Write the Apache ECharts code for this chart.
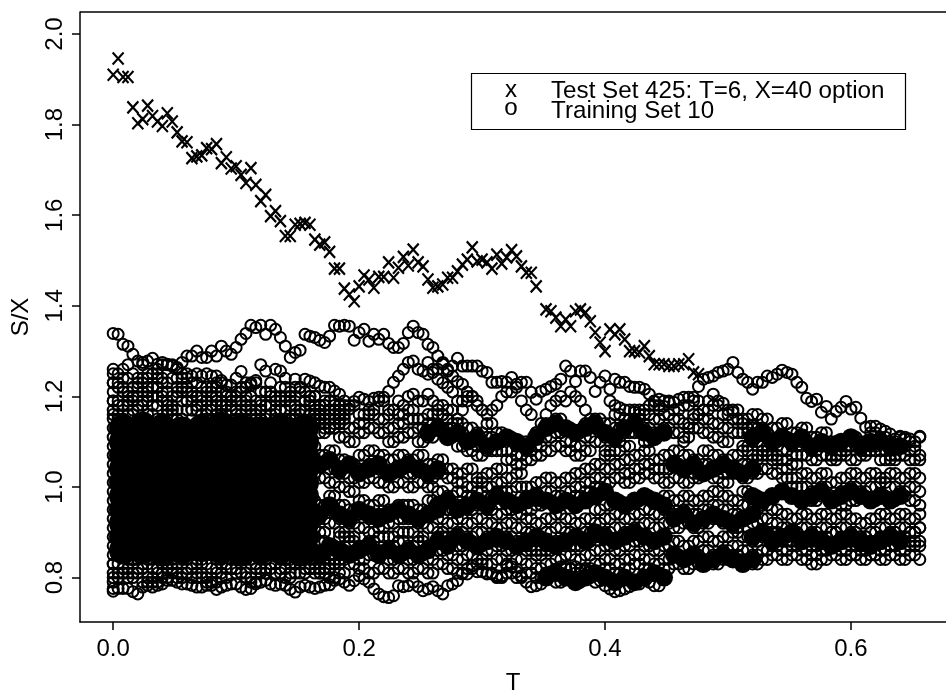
<!DOCTYPE html>
<html><head><meta charset="utf-8">
<style>html,body{margin:0;padding:0;background:#fff}#c{width:946px;height:693px}</style>
<script src="https://cdn.jsdelivr.net/npm/echarts@6/dist/echarts.min.js"></script>
</head><body><div id="c"></div>
<script>
const times=[0,.004,.008,.012,.016,.02,.024,.028,.032,.036,.04,.044,.048,.052,.056,.06,.064,.068,.072,.076,.08,.084,.088,.092,.096,.1,.104,.108,.112,.116,.12,.124,.128,.132,.136,.14,.144,.148,.152,.156,.16,.164,.168,.172,.176,.18,.184,.188,.192,.196,.2,.204,.208,.212,.216,.22,.224,.228,.232,.236,.24,.244,.248,.252,.256,.26,.264,.268,.272,.276,.28,.284,.288,.292,.296,.3,.304,.308,.312,.316,.32,.324,.328,.332,.336,.34,.344,.348,.352,.356,.36,.364,.368,.372,.376,.38,.384,.388,.392,.396,.4,.404,.408,.412,.416,.42,.424,.428,.432,.436,.44,.444,.448,.452,.456,.46,.464,.468,.472,.476,.48,.484,.488,.492,.496,.5,.504,.508,.512,.516,.52,.524,.528,.532,.536,.54,.544,.548,.552,.556,.56,.564,.568,.572,.576,.58,.584,.588,.592,.596,.6,.604,.608,.612,.616,.62,.624,.628,.632,.636,.64,.644,.648,.652,.656];
const xTickValues=[0,0.2,0.4,0.6];
const yTickValues=[0.8,1.0,1.2,1.4,1.6,1.8,2.0];

// Test Set 425, one value per time step from the first step (null = no mark)
const testSet=[1.91,1.946,1.905,1.905,1.838,1.803,1.812,1.842,1.819,1.807,1.797,1.825,1.807,1.783,1.763,1.761,1.726,1.73,1.732,1.748,1.746,1.757,1.715,1.728,1.703,1.708,1.689,1.671,1.704,1.667,1.631,1.645,1.598,1.609,1.587,1.554,1.554,1.579,1.581,1.583,1.579,1.546,1.535,1.54,1.519,1.482,1.482,1.438,1.425,1.41,1.443,1.467,1.458,1.44,1.464,1.464,1.496,1.462,1.484,1.508,1.489,1.524,1.496,1.487,1.458,1.44,1.443,1.447,1.462,1.462,1.476,1.491,1.502,1.529,1.498,1.502,1.496,1.482,1.513,1.493,1.507,1.523,1.509,1.487,1.473,1.473,1.443,null,1.392,1.388,1.374,1.355,1.37,1.355,1.388,1.392,1.385,1.366,1.341,1.319,1.3,1.348,1.337,1.348,1.326,1.3,1.3,1.297,1.311,1.289,1.271,1.271,1.271,1.267,1.267,1.271,1.271,1.282,1.253,1.249];

// Training Set 10: visible price paths, read one step apart
const pathA=[1.339,1.337,1.315,1.311,1.293,1.278,1.275,1.278,1.284,1.271,1.275,1.271,1.267,1.264,1.275,1.289,1.289,1.3,1.286,1.286,1.3,1.289,1.311,1.3,1.293,1.308,1.326,1.339,1.357,1.352,1.357,1.337,1.357,1.348,1.33,1.311,1.286,1.297,1.302,1.337,1.333,1.33,1.324,1.319,1.333,1.357,1.355,1.357,1.355,1.324,1.341,1.348,1.322,1.337,1.326,1.337,1.317,1.308,1.308,1.317,1.341,1.355,1.341,1.337,1.315,1.308,1.289,1.271,1.256,1.245,1.233,1.227,1.21];
const pathD=[1.172,1.189,1.198,1.194,1.189,1.196,1.198,1.198,1.211,1.231,1.245,1.26,1.275,1.278,1.26,1.256,1.275,1.253,1.238,1.23,1.22,1.21,1.19,1.19,1.2,1.2,1.18,1.17,1.16,1.17,1.18,1.2,1.21,1.21,1.22,1.19,1.17,1.16];
const pathF=[1.249,1.26,1.26,1.275,1.26,1.267,1.284,1.267,1.267,1.267,1.267,1.256,1.253,1.231,1.231,1.233,1.231,1.242,1.227,1.231,1.231,1.209,1.194,1.211,1.216,1.222,1.227,1.238,1.267,1.256,1.233,1.256,1.256,1.242,1.211,1.231,1.245,1.216,1.238,1.231,1.231,1.222,1.22,1.22,1.216,1.205,1.189,1.194,1.178,1.187,1.187,1.194,1.198,1.198,1.198,1.222,1.238,1.242,1.245,1.253,1.256,1.26,1.275,1.253,1.238,1.231,1.216,1.231,1.231,1.245,1.242,1.249,1.258,1.253,1.249,1.231,1.22,1.196,1.189,1.194,1.165,1.178,1.15,1.167,1.176,1.189,1.172,1.176,1.152,1.132,1.134,1.134,1.128,1.123,1.117,1.106,1.112,1.106,1.106,1.09,1.112];
const pathG=[1.1,1.13,1.15,1.16,1.17,1.19,1.205,1.19,1.185,1.17,1.165,1.15,1.14,1.13,1.135,1.12,1.13,1.12];
const pathH=[1.19,1.18,1.175,1.17,1.17,1.165,1.16,1.17,1.18,1.19,1.17];
const pathJ=[1.16,1.17,1.19,1.18,1.2,1.205,1.19,1.19,1.205,1.19,1.17,1.16,1.15,1.14,1.15,1.17,1.19,1.2,1.19,1.17];
const pathK=[1.12,1.14,1.16,1.18,1.19,1.2,1.19,1.21,1.2,1.19,1.17,1.15,1.13];
const pathBottom=[.793,.804,.797,.79,.775,.764,.758,.756,.76,.782,.78,.782,.79,.78,.771,.775,.78,.771,.764,.782,.786,.793,.808,.808,.826,.813,.813,.808,.808,.804,.804,.826,.824,.813,.804,.79,.78,.782,.786,.804,.813,.819,.824,.824,.819,.824,.819,.815,.813,.79,.793,.782,.775,.769,.771,.775,.78,.79,.786,.8,.79,.782,.782];
const upper1=[1.26,1.25,1.26,1.27,1.25,1.24,1.27,1.25,1.25,1.26,1.27,1.27,1.27,1.26,1.25,1.25,1.245,1.25,1.245,1.25,1.245,1.245,1.235,1.225,1.225,1.24,1.255,1.23,1.225,1.235,1.27,1.256,1.23,1.26,1.256,1.24,1.21,1.238,1.22,1.238,1.234,1.23,1.223,1.22,1.22,1.212,1.205,1.19];
const lower1=[.776,.776,.776,.776,.769,.764,.779,.783,.779,.783,.786,.794,.794,.79,.786,.786,.783,.779,.779,.783,.783,.774,.779,.783,.786,.786,.779,.774,.776,.786,.79,.794,.786,.783,.786,.783,.774,.768,.779,.783,.779,.776,.779,.783,.784,.794,.797,.79,.783];
// Values at the very first step, where many paths begin
const firstStep=[1.25,1.23,1.21,1.19,1.17,1.15,1.13,1.11,1.09,1.07,1.05,1.03,1.01,.99,.97,.95,.93,.91,.89,.87,.85,.83,.81,.79,.77];

// Edge paths of the crowded early part, read two steps apart
const upper2=[1.23,1.24,1.22,1.24,1.25,1.23,1.24,1.24,1.23,1.22,1.22,1.21,1.19,1.22,1.23,1.21,1.2,1.22,1.2,1.21,1.2,1.18,1.17,1.18];
const upper3=[1.19,1.21,1.2,1.21,1.22,1.21,1.2,1.22,1.2,1.19,1.2,1.18,1.2,1.19,1.16,1.18,1.16,1.2,1.18,1.17,1.18,1.16,1.15,1.16];
const upper4=[1.16,1.18,1.17,1.19,1.18,1.19,1.17,1.19,1.17,1.16,1.18,1.16,1.17,1.15,1.14,1.15,1.13,1.17,1.15,1.14,1.16,1.14,1.13,1.14];
const upper5=[1.18,1.2,1.18,1.22,1.2,1.17,1.21,1.19,1.18,1.21,1.19,1.18,1.16,1.2,1.17,1.18,1.19,1.15,1.17,1.19,1.17,1.15,1.16];
const upper6=[1.22,1.19,1.23,1.2,1.24,1.18,1.22,1.21,1.2,1.17,1.23,1.2,1.21,1.18,1.19,1.21,1.17,1.19,1.22,1.19,1.16,1.19,1.18];
const upper7=[1.15,1.16,1.14,1.16,1.15,1.16,1.15,1.17,1.14,1.15,1.16,1.14,1.15,1.17,1.15,1.14,1.15,1.14,1.16,1.13,1.15,1.13,1.14];
const lower2=[.8,.81,.81,.79,.79,.8,.81,.81,.8,.8,.79,.8,.82,.81,.79,.81,.83,.82,.81,.81,.82,.81,.8,.81];
const lower3=[.83,.82,.84,.83,.82,.83,.83,.84,.83,.83,.82,.83,.84,.85,.83,.84,.85,.84,.83,.85,.84,.84,.85,.85];
const lower4=[.81,.8,.82,.8,.81,.82,.8,.82,.81,.79,.81,.82,.81,.8,.82,.82,.81,.8,.83,.82,.81,.82,.83];
const lower5=[.85,.84,.85,.84,.85,.84,.85,.85,.84,.85,.84,.85,.86,.84,.85,.86,.85,.84,.86,.85,.86,.85,.86];

// Ribbons of later paths, read two steps apart
const ribbon1a=[1.2,1.18,1.19,1.17,1.18,1.16,1.17,1.19,1.17,1.16,1.17,1.15,1.16,1.18,1.17,1.14,1.13,1.12,1.14,1.12,1.11,1.09,1.1,1.12,1.14,1.15,1.13,1.12,1.14,1.15,1.14,1.16,1.15,1.17,1.16,1.18,1.19,1.17,1.18,1.19,1.17,1.18,1.16,1.17,1.15,1.16,1.15,1.13,1.14,1.12,1.13,1.11,1.12,1.1,1.09,1.11,1.1,1.12,1.11,1.1,1.11,1.1,1.11];
const ribbon1b=[1.16,1.15,1.17,1.15,1.13,1.14,1.16,1.15,1.13,1.14,1.15,1.13,1.14,1.16,1.13,1.12,1.1,1.09,1.11,1.1,1.08,1.07,1.08,1.09,1.11,1.12,1.1,1.09,1.11,1.13,1.11,1.13,1.12,1.15,1.13,1.15,1.16,1.15,1.14,1.16,1.15,1.14,1.13,1.15,1.12,1.13,1.12,1.1,1.11,1.09,1.1,1.08,1.09,1.07,1.08,1.09,1.08,1.09,1.08,1.07,1.09,1.08,1.07];
const ribbon1c=[1.14,1.12,1.13,1.11,1.1,1.12,1.13,1.12,1.1,1.11,1.12,1.1,1.11,1.13,1.11,1.09,1.08,1.07,1.08,1.08,1.06,1.05,1.06,1.07,1.08,1.09,1.08,1.07,1.08,1.1,1.08,1.1,1.09,1.12,1.1,1.12,1.13,1.12,1.11,1.13,1.12,1.11,1.1,1.12,1.09,1.1,1.09,1.07,1.08,1.07,1.07,1.06,1.07,1.06,1.07,1.06,1.07,1.08,1.06,1.06,1.07,1.06,1.06];
const ribbon2a=[1.09,1.07,1.08,1.06,1.05,1.07,1.08,1.07,1.06,1.07,1.06,1.07,1.05,1.06,1.04,1.03,1.04,1.02,1.03,1.04,1.02,1.03,1,1.01,1.02,1.01,1.02,1.03,1.04,1.05,1.07,1.08,1.06,1.07,1.08,1.06,1.07,1.08,1.07,1.06,1.08,1.07,1.06,1.07,1.08,1.07,1.08,1.09,1.06,1.05,1.03,1.02,1.03,1.01,1.02,1.03,1.02,1.03,1.02,1.03,1.02,1.03,1.02];
const ribbon2b=[1.06,1.05,1.04,1.03,1.02,1.04,1.05,1.04,1.03,1.04,1.03,1.04,1.02,1.03,1.02,1.01,1,1.01,1,1.01,.99,1,.98,.97,.99,.98,.99,1,1.01,1.02,1.04,1.05,1.03,1.04,1.05,1.04,1.04,1.05,1.04,1.03,1.05,1.04,1.03,1.04,1.05,1.06,1.07,1.06,1.04,1.02,1,.99,1,.98,.99,1,.99,1,1.01,1,.99,1,.99];
const ribbon2c=[1.03,1.02,1.01,1,.99,1.01,1.02,1.01,1,1.01,1,1.01,1,.99,.98,.99,.98,.99,.98,.99,.97,.96,.95,.96,.97,.96,.97,.98,.99,1,1.01,1.02,1.01,1.02,1.03,1.02,1.01,1.02,1.01,1.02,1.03,1.02,1.01,1.03,1.02,1.03,1.04,1.03,1.02,1,.98,.97,.98,.97,.96,.97,.98,.97,.98,.97,.98,.97,.96];
const ribbon3a=[.97,.96,.98,.96,.95,.97,.96,.97,.95,.96,.96,.95,.97,.96,.95,.96,.95,.96,.95,.94,.95,.94,.93,.92,.93,.94,.93,.92,.93,.95,.96,.97,.96,.97,.98,.97,.98,.97,.98,.97,.98,.99,.98,.97,.99,.98,.96,.95,.94,.93,.94,.93,.94,.93,.94,.93,.92,.93,.94,.93,.94,.93,.94];
const ribbon3b=[.94,.93,.95,.93,.92,.94,.93,.94,.92,.93,.93,.92,.94,.93,.92,.93,.92,.93,.92,.91,.92,.91,.9,.89,.9,.91,.9,.89,.9,.92,.93,.94,.93,.94,.95,.94,.95,.94,.95,.94,.95,.96,.95,.94,.96,.95,.93,.92,.91,.9,.91,.9,.91,.9,.91,.9,.89,.9,.91,.9,.91,.9,.91];
const ribbon3c=[.91,.9,.92,.9,.89,.91,.9,.91,.89,.9,.9,.89,.91,.9,.89,.9,.89,.9,.89,.88,.89,.88,.87,.86,.87,.88,.87,.87,.88,.89,.9,.91,.9,.91,.92,.91,.92,.91,.92,.91,.92,.93,.92,.91,.93,.92,.9,.89,.88,.88,.88,.87,.88,.87,.88,.87,.87,.88,.89,.87,.89,.88,.88];
const ribbon4a=[.89,.88,.87,.89,.88,.87,.88,.89,.87,.88,.87,.88,.87,.89,.88,.87,.88,.87,.86,.87,.86,.87,.86,.85,.86,.84,.85,.84,.85,.86,.87,.86,.87,.88,.87,.86,.87,.88,.87,.88,.89,.88,.89,.9,.89,.88,.89,.9,.89,.9,.89,.88,.89,.9,.89,.88,.89,.88,.89,.9,.89,.9,.91];
const ribbon4b=[.86,.85,.84,.86,.85,.84,.85,.86,.84,.85,.84,.85,.84,.86,.85,.84,.85,.84,.83,.84,.83,.84,.83,.82,.83,.81,.82,.81,.82,.83,.84,.83,.84,.85,.84,.83,.84,.85,.84,.85,.86,.85,.86,.87,.86,.85,.86,.87,.86,.87,.86,.85,.86,.87,.86,.85,.86,.85,.86,.87,.86,.87,.87];
const ribbon4c=[.83,.82,.83,.84,.83,.82,.81,.82,.81,.82,.81,.82,.81,.83,.82,.81,.82,.83,.81,.8,.81,.8,.81,.8,.81,.79,.8,.79,.8,.81,.82,.81,.82,.83,.82,.81,.82,.83,.82,.83,.84,.83,.84,.85,.84,.83,.84,.85,.84,.85,.84,.83,.84,.85,.84,.85,.84,.85,.84,.85,.84,.85,.84];

// Fully overplotted dark bands of the later part, read two steps apart
const band1A=[1.12,1.13,1.11,1.12,1.1,1.11,1.09,1.1,1.11,1.1,1.09,1.11,1.13,1.14,1.13,1.12,1.13,1.14,1.12,1.11,1.13,1.14,1.12,1.11,1.12];
const band1B=[1.11,1.12,1.1,1.11,1.1,1.11,1.09,1.1,1.09,1.1,1.11,1.09,1.1,1.1,1.09,1.09];
const band2A=[1.06,1.05,1.06,1.04,1.05,1.03,1.04,1.05,1.03,1.04,1.05,1.04,1.03,1.04];
const band2B=[1.05,1.04,1.05,1.03,1.04,1.05,1.04,1.03,1.04];
const band3A=[.96,.97,.95,.96,.97,.96,.98,.97,.96,.97,.98,.97,.96,.97,.96,.97,.98,.99,.97,.96,.97,.98,.97,.96];
const band3B=[.98,.97,.98,.99,.98,.97,.98,.99,.97,.98,.99,.98,.97,.98,.97,.98];
const band4A=[.95,.94,.96,.94,.93,.95,.94,.93,.94,.95,.94,.93,.94,.95];
const band4B=[.93,.94,.92,.93,.94,.93,.92,.93,.94];
const band5A=[.88,.87,.89,.88,.87,.88,.89,.88,.87,.88,.89,.88,.87,.88,.89,.88,.9,.89,.88,.89,.9,.89,.88,.89];
const band5B=[.89,.9,.88,.89,.9,.88,.89,.88,.87,.88,.89,.88,.87,.88,.89,.88];
const band6A=[.86,.85,.87,.86,.85,.86,.87,.85,.86,.85,.86,.85,.86];
const band6B=[.85,.84,.85,.83,.84,.85,.84,.83,.84];
const band7=[.8,.81,.8,.79,.8,.81,.8,.79,.8,.79,.8,.81,.8];

// Fully overplotted core of the early part, read four steps apart
const core1=[1.13,1.135,1.13,1.125,1.13,1.135,1.13,1.125,1.13,1.125];
const core2=[1.1,1.1,1.095,1.1,1.105,1.1,1.095,1.1,1.1,1.095];
const core3=[1.07,1.065,1.07,1.07,1.065,1.07,1.075,1.07,1.065,1.07];
const core4=[1.04,1.04,1.035,1.04,1.04,1.035,1.04,1.045,1.04,1.04];
const core5=[1.01,1.005,1.01,1.01,1.005,1.01,1.01,1.005,1.01,1.01];
const core6=[.98,.98,.975,.98,.985,.98,.975,.98,.98,.975];
const core7=[.95,.945,.95,.95,.945,.95,.955,.95,.945,.95];
const core8=[.92,.92,.915,.92,.92,.915,.92,.925,.92,.92];
const core9=[.89,.885,.89,.89,.885,.89,.89,.885,.89,.89];
const core10=[.86,.86,.855,.86,.865,.86,.855,.86,.86,.855];
const coreEdge=[1.13,1.1,1.07,1.04,1.01,.98,.95,.92,.89,.86];

const trainingPoints=[];
function addPath(values,startStep,stride,out){
  values.forEach((v,i)=>{ if(v!=null) out.push([times[startStep+i*stride],v]); });
}
// A value read two steps apart also marks the step it spans
function addHeld(values,startStep,out){
  values.forEach((v,i)=>{
    const k=startStep+i*2;
    out.push([times[k],v]);
    if(times[k+1]!=null) out.push([times[k+1],v]);
  });
}
addPath(pathA,0,1,trainingPoints);
addPath(pathD,48,1,trainingPoints);
addPath(pathF,64,1,trainingPoints);
addPath(pathG,116,1,trainingPoints);
addPath(pathH,101,1,trainingPoints);
addPath(pathJ,56,1,trainingPoints);
addPath(pathK,86,1,trainingPoints);
addPath(pathBottom,49,1,trainingPoints);
addPath(upper1,0,1,trainingPoints);
addPath(lower1,0,1,trainingPoints);
addPath(firstStep,0,0,trainingPoints);
[upper2,upper3,upper4,lower2,lower3].forEach(p=>addHeld(p,0,trainingPoints));
[upper5,upper6,upper7,lower4,lower5].forEach(p=>addHeld(p,1,trainingPoints));
[ribbon1a,ribbon1b,ribbon1c,ribbon2a,ribbon2b,ribbon2c,ribbon3a,ribbon3b,ribbon3c,ribbon4a,ribbon4b,ribbon4c].forEach(p=>addHeld(p,40,trainingPoints));
const bandPoints=[];
addPath(band1A,64,2,bandPoints); addPath(band1B,130,2,bandPoints);
addPath(band2A,40,2,bandPoints); addPath(band2B,114,2,bandPoints);
addPath(band3A,66,2,bandPoints); addPath(band3B,130,2,bandPoints);
addPath(band4A,40,2,bandPoints); addPath(band4B,114,2,bandPoints);
addPath(band5A,66,2,bandPoints); addPath(band5B,130,2,bandPoints);
addPath(band6A,40,2,bandPoints); addPath(band6B,114,2,bandPoints);
addPath(band7,88,2,bandPoints);
const corePoints=[];
[core1,core2,core3,core4,core5,core6,core7,core8,core9,core10].forEach(p=>addPath(p,2,4,corePoints));
addPath(coreEdge,39,0,corePoints);
const testPoints=[];
addPath(testSet,0,1,testPoints);

const FONT='"Liberation Sans", Arial, sans-serif';
const GF="24.2px 'Liberation Sans', Arial, sans-serif";
const chart=echarts.init(document.getElementById('c'),null,{renderer:'canvas'});
chart.setOption({
  animation:false,
  backgroundColor:'#fff',
  grid:{left:80,top:12,right:0,bottom:71,show:false,outerBoundsMode:'none',containLabel:false},
  xAxis:{type:'value',min:-0.027,max:0.6773,name:'T',nameLocation:'middle',nameGap:49,
    nameTextStyle:{fontFamily:FONT,fontSize:24,color:'#000'},
    splitLine:{show:false},
    axisLine:{show:true,onZero:false,lineStyle:{color:'#000',width:1.5}},
    axisTick:{show:true,length:8,customValues:xTickValues,lineStyle:{color:'#000',width:1.5}},
    axisLabel:{customValues:xTickValues,margin:15,fontFamily:FONT,fontSize:24,color:'#000',formatter:v=>v.toFixed(1)}},
  yAxis:{type:'value',min:0.702,max:2.0486,name:'S/X',nameLocation:'middle',nameGap:47,
    nameTextStyle:{fontFamily:FONT,fontSize:24,color:'#000'},
    splitLine:{show:false},
    axisLine:{show:true,onZero:false,lineStyle:{color:'#000',width:1.5}},
    axisTick:{show:true,length:8,customValues:yTickValues,lineStyle:{color:'#000',width:1.5}},
    axisLabel:{customValues:yTickValues,rotate:90,margin:13,fontFamily:FONT,fontSize:24,color:'#000',formatter:v=>v.toFixed(1)}},
  graphic:[
    {type:'line',silent:true,shape:{x1:80,y1:12,x2:946,y2:12},style:{stroke:'#000',lineWidth:1.5}},
    {type:'rect',silent:true,z:50,shape:{x:471.5,y:73.5,width:434,height:56},style:{fill:'#fff',stroke:'#000',lineWidth:1.2}},
    {type:'text',silent:true,z:51,x:511,y:90,style:{text:'x',font:GF,fill:'#000',textAlign:'center',textVerticalAlign:'middle'}},
    {type:'text',silent:true,z:51,x:511,y:108,style:{text:'o',font:GF,fill:'#000',textAlign:'center',textVerticalAlign:'middle'}},
    {type:'text',silent:true,z:51,x:551,y:91,style:{text:'Test Set 425: T=6, X=40 option',font:GF,fill:'#000',textAlign:'left',textVerticalAlign:'middle'}},
    {type:'text',silent:true,z:51,x:551,y:111,style:{text:'Training Set 10',font:GF,fill:'#000',textAlign:'left',textVerticalAlign:'middle'}}
  ],
  series:[
    {name:'Training Set 10 (overplotted)',type:'scatter',data:corePoints,symbol:'circle',symbolSize:28,silent:true,
      itemStyle:{color:'#000',opacity:1}},
    {name:'Training Set 10 (overplotted bands)',type:'scatter',data:bandPoints,symbol:'circle',symbolSize:18,silent:true,
      itemStyle:{color:'#000',opacity:1}},
    {name:'Training Set 10',type:'scatter',data:trainingPoints,symbol:'circle',symbolSize:11,silent:true,
      itemStyle:{color:'rgba(0,0,0,0)',borderColor:'#000',borderWidth:2,opacity:1}},
    {name:'Test Set 425',type:'scatter',data:testPoints,symbol:'path://M0,0L10,10M10,0L0,10',symbolSize:[11,12],silent:true,
      itemStyle:{color:'rgba(0,0,0,0)',borderColor:'#000',borderWidth:2.2,opacity:1}}
  ]
});
</script></body></html>
